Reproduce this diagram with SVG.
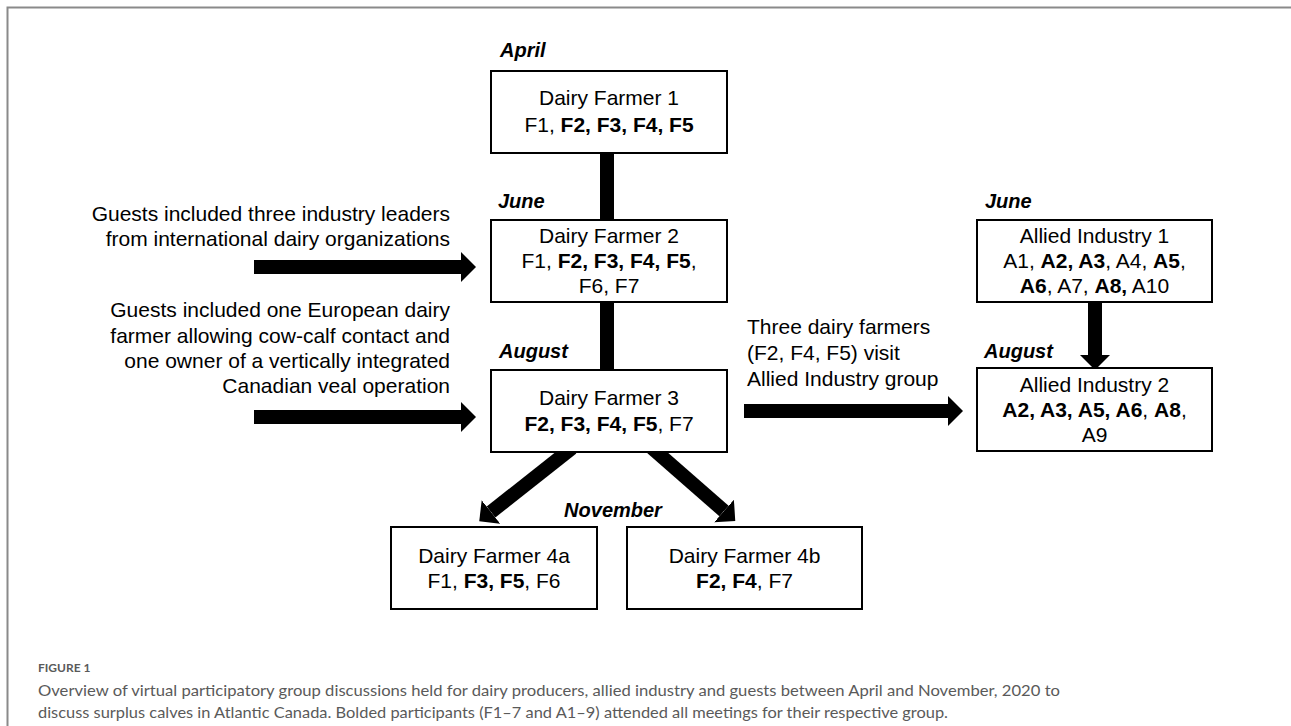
<svg xmlns="http://www.w3.org/2000/svg" width="1291" height="726" viewBox="0 0 1291 726">
<style>
.box{fill:#fff;stroke:#000;stroke-width:2}
.t{font-family:"Liberation Sans",Arial,sans-serif;font-size:21px;fill:#000}
.g{font-family:"Liberation Sans",Arial,sans-serif;font-size:21px;fill:#000;text-anchor:end}
.c{text-anchor:middle}
.b{font-weight:bold}
.m{font-family:"Liberation Sans",Arial,sans-serif;font-size:20px;font-weight:bold;font-style:italic;fill:#000}
.bar{stroke:#000;stroke-width:14;fill:none}
.cap{font-family:Lato,"Open Sans",sans-serif;fill:#5a5a5a}
</style>
<defs>
<marker id="ah" markerUnits="userSpaceOnUse" viewBox="0 0 15 30" refX="0" refY="15" markerWidth="15" markerHeight="30" orient="auto">
<path d="M0,0 L15,15 L0,30 Z" fill="#000"/>
</marker>
</defs>
<rect width="1291" height="726" fill="#fff"/>
<path d="M7.5,726 V7.5 H1291" fill="none" stroke="#8a8a8a" stroke-width="2"/>

<g id="connectors">
<line class="bar" x1="607" y1="150" x2="607" y2="222"/>
<line class="bar" x1="607" y1="300" x2="607" y2="371"/>
<line class="bar" x1="254" y1="267" x2="461" y2="267" marker-end="url(#ah)"/>
<line class="bar" x1="254" y1="417" x2="461" y2="417" marker-end="url(#ah)"/>
<line class="bar" x1="744" y1="411" x2="948" y2="411" marker-end="url(#ah)"/>
<line class="bar" x1="1095" y1="300" x2="1095" y2="355" marker-end="url(#ah)"/>
<line class="bar" x1="572" y1="448" x2="491" y2="512" marker-end="url(#ah)"/>
<line class="bar" x1="652" y1="448" x2="724" y2="511" marker-end="url(#ah)"/>
</g>

<g id="df1">
<text class="m" x="500" y="57">April</text>
<rect class="box" x="491" y="71" width="236" height="82"/>
<text class="t c" x="609" y="105">Dairy Farmer 1</text>
<text class="t c" x="609" y="132">F1, <tspan class="b">F2, F3, F4, F5</tspan></text>
</g>

<g id="df2">
<text class="m" x="498" y="208">June</text>
<rect class="box" x="491" y="220" width="236" height="82"/>
<text class="t c" x="609" y="243">Dairy Farmer 2</text>
<text class="t c" x="609" y="268">F1, <tspan class="b">F2, F3, F4, F5</tspan>,</text>
<text class="t c" x="609" y="293">F6, F7</text>
</g>

<g id="df3">
<text class="m" x="499" y="358">August</text>
<rect class="box" x="491" y="370" width="236" height="82"/>
<text class="t c" x="609" y="405">Dairy Farmer 3</text>
<text class="t c" x="609" y="431"><tspan class="b">F2, F3, F4, F5</tspan>, F7</text>
</g>

<g id="guests1">
<text class="g" x="450" y="221">Guests included three industry leaders</text>
<text class="g" x="450" y="246">from international dairy organizations</text>
</g>

<g id="guests2">
<text class="g" x="450" y="317">Guests included one European dairy</text>
<text class="g" x="450" y="343">farmer allowing cow-calf contact and</text>
<text class="g" x="450" y="368">one owner of a vertically integrated</text>
<text class="g" x="450" y="393">Canadian veal operation</text>
</g>

<g id="visit">
<text class="t" x="747" y="334">Three dairy farmers</text>
<text class="t" x="747" y="360">(F2, F4, F5) visit</text>
<text class="t" x="747" y="386">Allied Industry group</text>
</g>

<g id="ai1">
<text class="m" x="985" y="208">June</text>
<rect class="box" x="977" y="220" width="235" height="82"/>
<text class="t c" x="1094.5" y="243">Allied Industry 1</text>
<text class="t c" x="1094.5" y="268">A1, <tspan class="b">A2, A3</tspan>, A4, <tspan class="b">A5</tspan>,</text>
<text class="t c" x="1094.5" y="293"><tspan class="b">A6</tspan>, A7, <tspan class="b">A8,</tspan> A10</text>
</g>

<g id="ai2">
<text class="m" x="984" y="358">August</text>
<rect class="box" x="977" y="368" width="235" height="83"/>
<text class="t c" x="1094.5" y="392">Allied Industry 2</text>
<text class="t c" x="1094.5" y="417"><tspan class="b">A2, A3, A5, A6</tspan>, <tspan class="b">A8</tspan>,</text>
<text class="t c" x="1094.5" y="442">A9</text>
</g>

<text class="m c" x="613" y="517">November</text>

<g id="df4a">
<rect class="box" x="391" y="527" width="206" height="82"/>
<text class="t c" x="494" y="563">Dairy Farmer 4a</text>
<text class="t c" x="494" y="588">F1, <tspan class="b">F3, F5</tspan>, F6</text>
</g>

<g id="df4b">
<rect class="box" x="627" y="527" width="235" height="82"/>
<text class="t c" x="744.5" y="563">Dairy Farmer 4b</text>
<text class="t c" x="744.5" y="588"><tspan class="b">F2, F4</tspan>, F7</text>
</g>

<g id="caption">
<text class="cap" x="38" y="672" font-size="12" font-weight="bold" fill="#6a6a6a">FIGURE 1</text>
<text class="cap" x="38" y="696" font-size="16" textLength="1022" lengthAdjust="spacingAndGlyphs">Overview of virtual participatory group discussions held for dairy producers, allied industry and guests between April and November, 2020 to</text>
<text class="cap" x="38" y="718" font-size="16" textLength="910" lengthAdjust="spacingAndGlyphs">discuss surplus calves in Atlantic Canada. Bolded participants (F1–7 and A1–9) attended all meetings for their respective group.</text>
</g>
</svg>
